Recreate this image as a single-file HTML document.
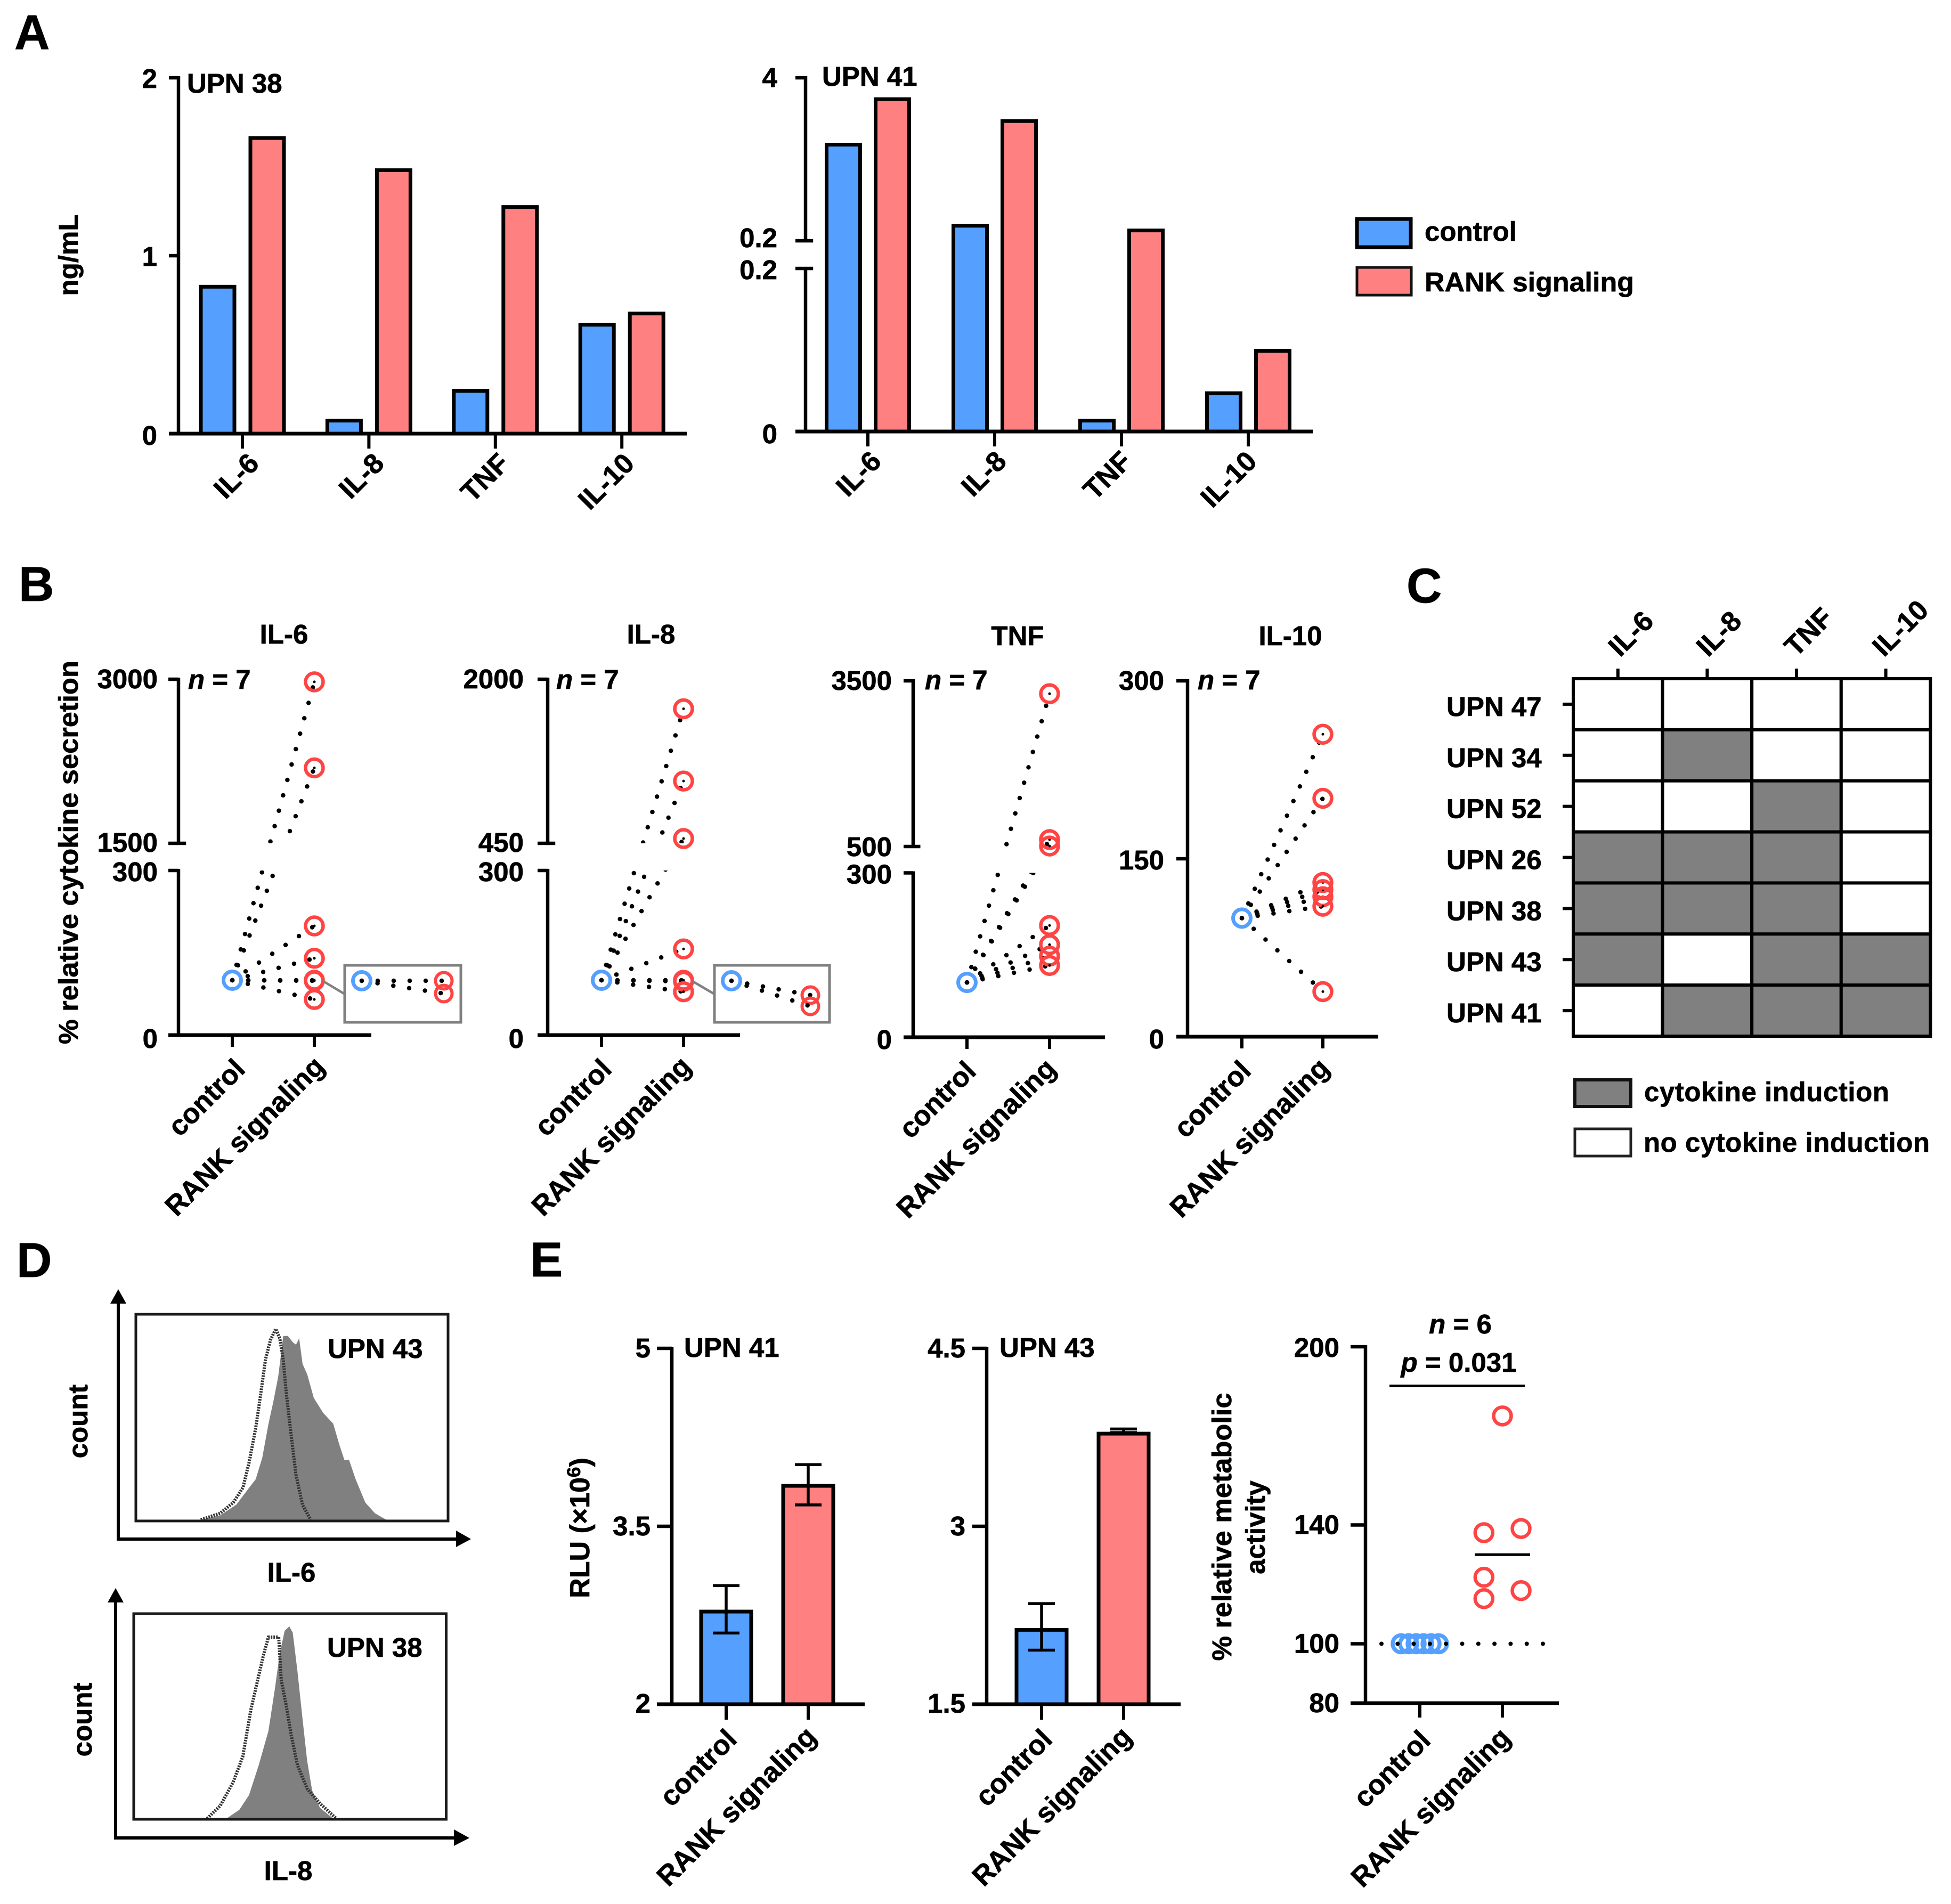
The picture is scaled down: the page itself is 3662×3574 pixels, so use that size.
<!DOCTYPE html>
<html lang="en">
<head>
<meta charset="utf-8">
<title>RANK signaling cytokine figure</title>
<style>
html,body{margin:0;padding:0;background:#fff;width:3662px;height:3574px;overflow:hidden}
svg{display:block}
text{font-family:"Liberation Sans",Arial,sans-serif;font-weight:bold;font-size:51px;fill:#000;stroke:#000;stroke-width:.7px}
.letter{font-size:92px}
.rot{font-size:52.5px}
</style>
</head>
<body>
<svg id="fig" width="3662" height="3574" viewBox="0 0 3662 3574">
<rect x="0" y="0" width="3662" height="3574" fill="#fff"/>
<text class="letter" x="27" y="92">A</text>
<text class="letter" x="35" y="1128">B</text>
<text class="letter" x="2640" y="1131">C</text>
<text class="letter" x="31" y="2397">D</text>
<text class="letter" x="995" y="2396">E</text>

<text transform="translate(146 479) rotate(-90)" text-anchor="middle">ng/mL</text>
<text x="351" y="174">UPN 38</text>
<text x="1543" y="161">UPN 41</text>

<g>
<rect x="2556" y="411" width="101" height="53" fill="#559fff" stroke="#000" stroke-width="7" transform="translate(-9 0)"/>
<text x="2674" y="452">control</text>
<rect x="2556" y="502" width="102" height="52" fill="#ff8080" stroke="#111" stroke-width="5" transform="translate(-9 0)"/>
<text x="2674" y="547" textLength="393" lengthAdjust="spacingAndGlyphs">RANK signaling</text>
</g>

<text transform="translate(146 1600) rotate(-90)" text-anchor="middle" textLength="720" lengthAdjust="spacingAndGlyphs">% relative cytokine secretion</text>
<text x="533" y="1208" text-anchor="middle">IL-6</text>
<text x="1222" y="1208" text-anchor="middle">IL-8</text>
<text x="1910" y="1211" text-anchor="middle">TNF</text>
<text x="2422" y="1211" text-anchor="middle">IL-10</text>
<text x="353" y="1293"><tspan font-style="italic">n</tspan> = 7</text>
<text x="1044" y="1293"><tspan font-style="italic">n</tspan> = 7</text>
<text x="1736" y="1294"><tspan font-style="italic">n</tspan> = 7</text>
<text x="2248" y="1294"><tspan font-style="italic">n</tspan> = 7</text>

<g>
<rect x="2956" y="2027" width="105" height="50" fill="#808080" stroke="#111" stroke-width="6"/>
<text x="3086" y="2067" textLength="460" lengthAdjust="spacing">cytokine induction</text>
<rect x="2956" y="2119" width="105" height="51" fill="#fff" stroke="#222" stroke-width="5"/>
<text x="3085" y="2162" textLength="537" lengthAdjust="spacing">no cytokine induction</text>
</g>

<g>
<path d="M222 2889V2440" stroke="#000" stroke-width="6" fill="none"/>
<polygon points="222,2420 207,2447 237,2447" fill="#000"/>
<path d="M219 2889H860" stroke="#000" stroke-width="6" fill="none"/>
<polygon points="884,2889 856,2873 856,2904" fill="#000"/>
</g>
<g>
<path d="M217 3450V3000" stroke="#000" stroke-width="6" fill="none"/>
<polygon points="217,2981 202,3008 232,3008" fill="#000"/>
<path d="M214 3450H856" stroke="#000" stroke-width="6" fill="none"/>
<polygon points="881,3450 852,3434 852,3465" fill="#000"/>
</g>
<text transform="translate(164 2668) rotate(-90)" text-anchor="middle">count</text>
<text transform="translate(172 3228) rotate(-90)" text-anchor="middle">count</text>
<text x="547" y="2969" text-anchor="middle">IL-6</text>
<text x="541" y="3529" text-anchor="middle">IL-8</text>

<text style="font-size:52px" transform="translate(1106 2868) rotate(-90)" text-anchor="middle">RLU (×10<tspan style="font-size:35px" dy="-17">6</tspan><tspan dy="17">)</tspan></text>
<text x="1284" y="2547">UPN 41</text>
<text x="1876" y="2547">UPN 43</text>
<text transform="translate(2311 2866) rotate(-90)" text-anchor="middle" textLength="503" lengthAdjust="spacingAndGlyphs">% relative metabolic</text>
<text transform="translate(2374 2867) rotate(-90)" text-anchor="middle">activity</text>
<text x="2741" y="2503" text-anchor="middle"><tspan font-style="italic">n</tspan> = 6</text>
<text x="2738" y="2575" text-anchor="middle"><tspan font-style="italic">p</tspan> = 0.031</text>
<path d="M2608 2601.5H2862" stroke="#000" stroke-width="5" fill="none"/>
</svg>

<script>
/* ---- Panel A data ---- */
const cytokines = ['IL-6', 'IL-8', 'TNF', 'IL-10'];
const upn38Control = [0.83, 0.078, 0.245, 0.617];
const upn38Rank = [1.666, 1.485, 1.278, 0.68];
const upn38Ticks = [0, 1, 2];
const upn38TickLabels = ['0', '1', '2'];
const upn41Control = [2.46, 0.57, 0.0144, 0.048];
const upn41Rank = [3.52, 3.01, 0.46, 0.1];
const upn41Ticks = [0, 0.2, 0.2001, 4];
const upn41TickLabels = ['0', '0.2', '0.2', '4'];

/* ---- Panel B data ---- */
const pairGroups = ['control', 'RANK signaling'];
const il6ControlValues = [100, 100, 100, 100, 100, 100, 100];
const il6RankValues = [2976, 2190, 199, 140, 100, 99, 65];
const il6Ticks = [0, 300, 1500, 3000];
const il6TickLabels = ['0', '300', '1500', '3000'];
const il6InsetControl = [100, 100];
const il6InsetRank = [100, 92];
const il8ControlValues = [100, 100, 100, 100, 100, 100, 100];
const il8RankValues = [1721, 1038, 495, 157, 100, 98, 79];
const il8Ticks = [0, 300, 450, 2000];
const il8TickLabels = ['0', '300', '450', '2000'];
const il8InsetControl = [100, 100];
const il8InsetRank = [91, 84];
const tnfControlValues = [100, 100, 100, 100, 100, 100, 100];
const tnfRankValues = [3267, 626, 510, 204, 169, 148, 131];
const tnfTicks = [0, 300, 500, 3500];
const tnfTickLabels = ['0', '300', '500', '3500'];
const il10ControlValues = [100, 100, 100, 100, 100, 100, 100];
const il10RankValues = [255, 201, 130, 124, 118, 110, 38];
const il10Ticks = [0, 150, 300];
const il10TickLabels = ['0', '150', '300'];

/* ---- Panel C data ---- */
const heatRows = ['UPN 47', 'UPN 34', 'UPN 52', 'UPN 26', 'UPN 38', 'UPN 43', 'UPN 41'];
const heatUpn47 = [0, 0, 0, 0];
const heatUpn34 = [0, 1, 0, 0];
const heatUpn52 = [0, 0, 1, 0];
const heatUpn26 = [1, 1, 1, 0];
const heatUpn38 = [1, 1, 1, 0];
const heatUpn43 = [1, 0, 1, 1];
const heatUpn41 = [0, 1, 1, 1];

/* ---- Panel D data (intensity 0-100, relative count 0-100) ---- */
const il6StainIntensity = [20.8, 27, 32.2, 36.3, 38.4, 40.5, 42.5, 44, 45.6, 47.2, 48.7, 50.3, 51.3, 52.3, 53.4, 54.9, 57, 60, 63.2, 65.2, 66.8, 68.3, 70.4, 73.5, 76.6, 80.2];
const il6StainCount = [0.6, 2.7, 7.9, 16.1, 20.2, 30.6, 47.1, 57.4, 69.8, 89.5, 89.5, 86.4, 85.3, 88.4, 76, 70.9, 59.5, 52.3, 47.1, 36.8, 29.5, 29.5, 20.2, 8.9, 3.7, 0.6];
const il6IsoIntensity = [20.8, 27, 31.2, 34.3, 36.3, 38.4, 40, 41.5, 43.1, 44.8, 46.1, 47.2, 48.2, 49.8, 51.3, 53.4, 56];
const il6IsoCount = [0.6, 3.7, 8.9, 16.1, 28.5, 45, 61.5, 78, 87.5, 92.9, 88.4, 78, 61.5, 40.8, 22.2, 7.7, 0.6];
const il8StainIntensity = [29.7, 33.8, 36.9, 40, 43.1, 45.2, 46.7, 48.3, 49.8, 50.9, 52.4, 54, 55.5, 57.1, 59.6, 63.8];
const il8StainCount = [0.4, 4.6, 11.8, 26.3, 42.9, 63.7, 80.3, 91.7, 93.8, 90.7, 72, 49.2, 28.5, 14, 5.6, 0.4];
const il8IsoIntensity = [23.5, 27.7, 31.8, 34.9, 37.5, 40, 41.6, 43.1, 46.4, 47.2, 48.8, 50.4, 52.4, 55.5, 59.6, 64.8];
const il8IsoCount = [0.4, 6.6, 18, 30.5, 53.3, 69.9, 80.3, 88.6, 88.6, 67.8, 55.4, 40.9, 26.3, 14.9, 7.7, 0.4];

/* ---- Panel E data ---- */
const rlu41Means = [2.79, 3.85];
const rlu41ErrUp = [0.21, 0.17];
const rlu41ErrDown = [0.19, 0.17];
const rlu41Ticks = [2, 3.5, 5];
const rlu41TickLabels = ['2', '3.5', '5'];
const rlu43Means = [2.136, 3.79];
const rlu43ErrUp = [0.212, 0.03];
const rlu43ErrDown = [0.18, 0];
const rlu43Ticks = [1.5, 3, 4.5];
const rlu43TickLabels = ['1.5', '3', '4.5'];
const metabolicControl = [100, 100, 100, 100, 100, 100];
const metabolicControlSwarm = [-0.226, -0.136, -0.045, 0.045, 0.136, 0.226];
const metabolicRank = [176.7, 137.4, 138.8, 122.4, 115.2, 117.9];
const metabolicRankSwarm = [0, -0.224, 0.226, -0.224, -0.224, 0.226];
const metabolicRankMean = 130;
const metabolicTicks = [80, 100, 140, 200];
const metabolicTickLabels = ['80', '100', '140', '200'];

/* ---- Drawing helpers ---- */
const BLUE = '#559fff', PINK = '#ff8080', RED = '#ff4444', GRAY = '#808080';
const svg = document.getElementById('fig');
const SVG_NS = svg.namespaceURI;

function mk(tag, attrs, parent) {
  const el = document.createElementNS(SVG_NS, tag);
  for (const k in attrs) el.setAttribute(k, attrs[k]);
  parent.appendChild(el);
  return el;
}
function group(parent) { return mk('g', {}, parent); }

function pieceScale(domain, range) {
  return function (v) {
    for (let i = 0; i < domain.length - 1; i++) {
      if (v <= domain[i + 1] || i === domain.length - 2) {
        return range[i] + (v - domain[i]) / (domain[i + 1] - domain[i]) * (range[i + 1] - range[i]);
      }
    }
  };
}

function drawYAxis(parent, o) {
  o.segments.forEach(function (s) {
    const spine = mk('line', { x1: o.x, x2: o.x, y1: o.scale(s[0]) + 3, y2: o.scale(s[1]) - 3, stroke: '#000', 'stroke-width': 6.5 }, parent);
    
    
  });
  o.ticks.forEach(function (t, i) {
    const y = o.scale(t);
    const across = o.breakTicks && o.breakTicks.indexOf(t) >= 0;
    const tick = mk('line', { x1: o.left, x2: across ? o.x + (o.x - o.left) * 0.75 : o.x, y1: y, y2: y, stroke: '#000', 'stroke-width': 6.5 }, parent);
    
    
    const label = mk('text', { x: o.labelRight, y: y + (o.labelDy ? o.labelDy[i] : 19), 'text-anchor': 'end' }, parent);
    label.textContent = o.labels[i];
    
    
  });
}

function drawXAxis(parent, o) {
  const axis = mk('line', { x1: o.left, x2: o.right, y1: o.y, y2: o.y, stroke: '#000', 'stroke-width': 7 }, parent);
  
  
  o.categories.forEach(function (c, i) {
    const x = o.catX(i);
    const tick = mk('line', { x1: x, x2: x, y1: o.y, y2: o.y + o.tickLen, stroke: '#000', 'stroke-width': 6 }, parent);
    
    
    const shift = o.pairShift ? (i === 0 ? [5, 7] : [0, 2]) : [0, 0];
    const lx = x + o.labelDx + i * (o.labelStep || 0) + shift[0], ly = o.y + o.labelDy + shift[1];
    const label = mk('text', { class: 'rot', x: lx, y: ly, 'text-anchor': 'end', transform: 'rotate(-45 ' + lx + ' ' + ly + ')' }, parent);
    label.textContent = c;
    
    
  });
}

/* ---- Panel A ---- */
function drawGroupedBars(o) {
  const g = group(svg);
  
  
  const y = pieceScale(o.domain, o.range);
  const catX = function (i) { return o.firstCat + i * o.step; };
  o.categories.forEach(function (c, i) {
    const tc = y(o.control[i]) + 1.5;
    const barC = mk('rect', { x: catX(i) - o.offset - o.barW / 2, y: tc, width: o.barW, height: o.y0 - tc, fill: BLUE, stroke: '#000', 'stroke-width': 7 }, g);
    
    
    const tr = y(o.rank[i]) + 1.5;
    const barR = mk('rect', { x: catX(i) + o.offset - o.barW / 2, y: tr, width: o.barW, height: o.y0 - tr, fill: PINK, stroke: '#000', 'stroke-width': 7 }, g);
    
    
  });
  drawYAxis(g, { x: o.axisX, scale: y, segments: o.segments, ticks: o.ticks, labels: o.labels, left: o.left, labelRight: o.labelRight, breakTicks: o.breakTicks, labelDy: o.labelDy });
  drawXAxis(g, { left: o.left, right: o.right, y: o.y0, categories: o.categories, catX: catX, tickLen: 28, labelDx: o.labelDx, labelStep: o.labelStep, labelDy: 59 });
}
drawGroupedBars({
  name: 'upn-38-bar-chart', categories: cytokines, control: upn38Control, rank: upn38Rank,
  domain: [0, 2], range: [814, 146], y0: 814, firstCat: 455, step: 237.4, offset: 46.5, barW: 63,
  axisX: 335, left: 317, right: 1289, labelRight: 295, ticks: upn38Ticks, labels: upn38TickLabels,
  segments: [[0, 2]], labelDy: [21, 19, 19], labelDx: 34, labelStep: -2.5
});
drawGroupedBars({
  name: 'upn-41-bar-chart', categories: cytokines, control: upn41Control, rank: upn41Rank,
  domain: [0, 0.2, 0.2001, 4], range: [810, 504, 452, 146], y0: 810, firstCat: 1629, step: 238, offset: 46, barW: 63,
  axisX: 1512, left: 1493, right: 2464, labelRight: 1459, ticks: upn41Ticks, labels: upn41TickLabels,
  segments: [[0, 0.2], [0.2001, 4]], breakTicks: [0.2, 0.2001], labelDy: [22, 20, 12, 17], labelDx: 28, labelStep: -3
});

/* ---- Panel B ---- */
let clipCounter = 0;
function drawPaired(o) {
  const g = group(svg);
  
  
  const y = pieceScale(o.domain, o.range);
  let clipRef = null;
  if (o.gap) {
    clipCounter += 1;
    const clip = mk('clipPath', { id: 'gapclip' + clipCounter }, g);
    mk('rect', { x: o.axisX, y: 1200, width: 500, height: o.gap[0] - 1200 }, clip);
    mk('rect', { x: o.axisX, y: o.gap[1], width: 500, height: 500 }, clip);
    clipRef = 'url(#gapclip' + clipCounter + ')';
  }
  o.rank.forEach(function (v, i) {
    const attrs = { x1: o.cats[0], y1: y(o.control[i]), x2: o.cats[1], y2: y(v), stroke: '#000', 'stroke-width': 8.5, 'stroke-linecap': 'round', 'stroke-dasharray': '0 30' };
    if (clipRef) attrs['clip-path'] = clipRef;
    const link = mk('line', attrs, g);
    
    
  });
  o.rank.forEach(function (v) {
    const pt = mk('circle', { cx: o.cats[1], cy: y(v), r: 16.5, fill: 'none', stroke: RED, 'stroke-width': 6.5 }, g);
    
    
    const c = mk('circle', { cx: o.cats[1], cy: y(v), r: 2.5, fill: '#000' }, g);
    
    
  });
  const ctrl = mk('circle', { cx: o.cats[0], cy: y(o.control[0]), r: 16.5, fill: 'none', stroke: BLUE, 'stroke-width': 7 }, g);
  
  
  drawYAxis(g, { x: o.axisX, scale: y, segments: o.segments, ticks: o.ticks, labels: o.labels, left: o.left, labelRight: o.labelRight, breakTicks: o.breakTicks, labelDy: o.labelDy });
  drawXAxis(g, { left: o.left, right: o.right, y: o.y0, categories: pairGroups, catX: function (i) { return o.cats[i]; }, tickLen: 22, labelDx: o.labelDx, labelDy: 60, pairShift: true });
  if (o.inset) {
    const ins = o.inset;
    const iy = function (v) { return ins.y100 + (100 - v) * 3; };
    const conn = mk('line', { x1: ins.fromX, y1: ins.fromY, x2: ins.box[0], y2: ins.fromY + 24, stroke: GRAY, 'stroke-width': 4.5 }, g);
    
    
    const box = mk('rect', { x: ins.box[0], y: ins.box[1], width: ins.box[2], height: ins.box[3], fill: '#fff', stroke: GRAY, 'stroke-width': 5 }, g);
    
    
    ins.rank.forEach(function (v, i) {
      const l = mk('line', { x1: ins.blueX, y1: iy(ins.control[i]), x2: ins.redX, y2: iy(v), stroke: '#000', 'stroke-width': 8.5, 'stroke-linecap': 'round', 'stroke-dasharray': '0 30' }, g);
      
      
      const p = mk('circle', { cx: ins.redX, cy: iy(v), r: 15.5, fill: 'none', stroke: RED, 'stroke-width': 6 }, g);
      
      
    });
    const b = mk('circle', { cx: ins.blueX, cy: iy(ins.control[0]), r: 16.5, fill: 'none', stroke: BLUE, 'stroke-width': 7 }, g);
    
    
  }
}
drawPaired({
  name: 'il-6-paired-chart', control: il6ControlValues, rank: il6RankValues,
  domain: [0, 300, 1500, 3000], range: [1943, 1634, 1583, 1275], y0: 1943,
  axisX: 335, left: 316, right: 697, labelRight: 296, cats: [436, 590], gap: [1583, 1634],
  ticks: il6Ticks, labels: il6TickLabels, segments: [[0, 300], [1500, 3000]], breakTicks: [1500],
  labelDy: [24, 20, 16, 17], labelDx: 22,
  inset: { box: [647, 1812, 218, 107], blueX: 679, redX: 833, y100: 1841, fromX: 607, fromY: 1842, control: il6InsetControl, rank: il6InsetRank }
});
drawPaired({
  name: 'il-8-paired-chart', control: il8ControlValues, rank: il8RankValues,
  domain: [0, 300, 450, 2000], range: [1943, 1634, 1583, 1275], y0: 1943,
  axisX: 1028, left: 1009, right: 1389, labelRight: 983, cats: [1129, 1283], gap: [1583, 1634],
  ticks: il8Ticks, labels: il8TickLabels, segments: [[0, 300], [450, 2000]], breakTicks: [450],
  labelDy: [24, 20, 16, 17], labelDx: 17,
  inset: { box: [1341, 1812, 216, 107], blueX: 1373, redX: 1521, y100: 1841, fromX: 1300, fromY: 1842, control: il8InsetControl, rank: il8InsetRank }
});
drawPaired({
  name: 'tnf-paired-chart', control: tnfControlValues, rank: tnfRankValues,
  domain: [0, 300, 500, 3500], range: [1947, 1638.5, 1589, 1278], y0: 1947,
  axisX: 1714, left: 1696, right: 2074, labelRight: 1674, cats: [1815, 1970], gap: [1589, 1638.5],
  ticks: tnfTicks, labels: tnfTickLabels, segments: [[0, 300], [500, 3500]], breakTicks: [500],
  labelDy: [22, 20, 18, 17], labelDx: 15
});
drawPaired({
  name: 'il-10-paired-chart', control: il10ControlValues, rank: il10RankValues,
  domain: [0, 300], range: [1946, 1278], y0: 1946,
  axisX: 2229, left: 2208, right: 2587, labelRight: 2185, cats: [2331, 2483],
  ticks: il10Ticks, labels: il10TickLabels, segments: [[0, 300]],
  labelDy: [22, 20, 17], labelDx: 15
});

/* ---- Panel C ---- */
(function () {
  const g = group(svg);
  
  
  const x0 = 2953, y0 = 1274, cw = 167.6, ch = 95.86;
  const matrix = [heatUpn47, heatUpn34, heatUpn52, heatUpn26, heatUpn38, heatUpn43, heatUpn41];
  matrix.forEach(function (row, r) {
    row.forEach(function (v, c) {
      const cell = mk('rect', { x: x0 + c * cw, y: y0 + r * ch, width: cw, height: ch, fill: v ? GRAY : '#fff', stroke: '#000', 'stroke-width': 6 }, g);
      
      
    });
  });
  heatRows.forEach(function (name, r) {
    const yc = y0 + (r + 0.5) * ch;
    const tick = mk('line', { x1: x0 - 20, x2: x0, y1: yc, y2: yc, stroke: '#000', 'stroke-width': 6 }, g);
    
    
    const label = mk('text', { x: 2715, y: yc + 22 }, g);
    label.textContent = name;
    
    
  });
  cytokines.forEach(function (name, c) {
    const xc = x0 + (c + 0.5) * cw;
    const tick = mk('line', { x1: xc, x2: xc, y1: y0 - 19, y2: y0, stroke: '#000', 'stroke-width': 6 }, g);
    
    
    const lx = xc + 4 - c * 2.5, ly = 1235;
    const label = mk('text', { class: 'rot', x: lx, y: ly, transform: 'rotate(-45 ' + lx + ' ' + ly + ')' }, g);
    label.textContent = name;
    
    
  });
})();

/* ---- Panel D ---- */
function drawHistogram(o) {
  const g = group(svg);
  
  
  const sx = function (v) { return o.box[0] + v / 100 * o.box[2]; };
  const sy = function (v) { return o.box[1] + o.box[3] - v / 100 * o.box[3]; };
  const pts = function (xs, ys) { return xs.map(function (v, i) { return sx(v).toFixed(1) + ',' + sy(ys[i]).toFixed(1); }).join(' '); };
  const base = sy(0);
  const area = mk('polygon', { points: sx(o.stainX[0]) + ',' + base + ' ' + pts(o.stainX, o.stainY) + ' ' + sx(o.stainX[o.stainX.length - 1]) + ',' + base, fill: GRAY }, g);
  
  
  const iso = mk('polyline', { points: pts(o.isoX, o.isoY), fill: 'none', stroke: '#333', 'stroke-width': 6, 'stroke-dasharray': '3 2' }, g);
  
  
  const frame = mk('rect', { x: o.box[0], y: o.box[1], width: o.box[2], height: o.box[3], fill: 'none', stroke: '#1a1a1a', 'stroke-width': 5 }, g);
  
  
  const label = mk('text', { x: o.labelX, y: o.labelY }, g);
  label.textContent = o.label;
  
  
}
drawHistogram({ name: 'il-6-histogram', box: [255, 2467, 586, 388], stainX: il6StainIntensity, stainY: il6StainCount, isoX: il6IsoIntensity, isoY: il6IsoCount, label: 'UPN 43', labelX: 615, labelY: 2549 });
drawHistogram({ name: 'il-8-histogram', box: [251, 3029, 586.5, 386], stainX: il8StainIntensity, stainY: il8StainCount, isoX: il8IsoIntensity, isoY: il8IsoCount, label: 'UPN 38', labelX: 614, labelY: 3110 });

/* ---- Panel E ---- */
function drawRluBars(o) {
  const g = group(svg);
  
  
  const y = pieceScale(o.domain, o.range);
  o.means.forEach(function (m, i) {
    const cx = o.cats[i], t = y(m) + 2;
    const bar = mk('rect', { x: cx - 47, y: t, width: 94, height: o.y0 - t, fill: i ? PINK : BLUE, stroke: '#000', 'stroke-width': 7 }, g);
    
    
    const up = y(m + o.errUp[i]), dn = y(m - o.errDown[i]);
    const stem = mk('line', { x1: cx, x2: cx, y1: up, y2: dn, stroke: '#000', 'stroke-width': 5.5 }, g);
    
    
    const capU = mk('line', { x1: cx - 25, x2: cx + 25, y1: up, y2: up, stroke: '#000', 'stroke-width': 5.5 }, g);
    
    
    const capD = mk('line', { x1: cx - 25, x2: cx + 25, y1: dn, y2: dn, stroke: '#000', 'stroke-width': 5.5 }, g);
    
    
  });
  drawYAxis(g, { x: o.axisX, scale: y, segments: [[o.domain[0], o.domain[1]]], ticks: o.ticks, labels: o.labels, left: o.left, labelRight: o.labelRight, labelDy: [16, 17, 17] });
  drawXAxis(g, { left: o.left, right: o.right, y: o.y0, categories: pairGroups, catX: function (i) { return o.cats[i]; }, tickLen: 29, labelDx: 18, labelDy: 62, pairShift: true });
}
drawRluBars({ name: 'upn-41-rlu-chart', means: rlu41Means, errUp: rlu41ErrUp, errDown: rlu41ErrDown, domain: [2, 5], range: [3199, 2531], y0: 3199, axisX: 1261, left: 1233, right: 1623, labelRight: 1221, cats: [1363, 1517], ticks: rlu41Ticks, labels: rlu41TickLabels });
drawRluBars({ name: 'upn-43-rlu-chart', means: rlu43Means, errUp: rlu43ErrUp, errDown: rlu43ErrDown, domain: [1.5, 4.5], range: [3199, 2531], y0: 3199, axisX: 1852, left: 1825, right: 2216, labelRight: 1812, cats: [1955, 2109], ticks: rlu43Ticks, labels: rlu43TickLabels });

(function () {
  const g = group(svg);
  
  
  const y = pieceScale([80, 200], [3197, 2528]);
  const cats = [2665, 2820];
  const catW = cats[1] - cats[0];
  metabolicControl.forEach(function (v, i) {
    const p = mk('circle', { cx: cats[0] + metabolicControlSwarm[i] * catW, cy: y(v), r: 16, fill: 'none', stroke: BLUE, 'stroke-width': 7.5 }, g);
    
    
  });
  metabolicRank.forEach(function (v, i) {
    const p = mk('circle', { cx: cats[1] + metabolicRankSwarm[i] * catW, cy: y(v), r: 16.5, fill: 'none', stroke: RED, 'stroke-width': 6.5 }, g);
    
    
  });
  const ref = mk('line', { x1: 2593, x2: 2899, y1: y(100), y2: y(100), stroke: '#000', 'stroke-width': 8, 'stroke-linecap': 'round', 'stroke-dasharray': '0 30.3' }, g);
  
  
  const mean = mk('line', { x1: cats[1] - 52, x2: cats[1] + 52, y1: y(metabolicRankMean), y2: y(metabolicRankMean), stroke: '#000', 'stroke-width': 5 }, g);
  
  
  drawYAxis(g, { x: 2563, scale: y, segments: [[80, 200]], ticks: metabolicTicks, labels: metabolicTickLabels, left: 2535, labelRight: 2514, labelDy: [17, 17, 17, 19] });
  drawXAxis(g, { left: 2535, right: 2926, y: 3197, categories: pairGroups, catX: function (i) { return cats[i]; }, tickLen: 27, labelDx: 18, labelDy: 66, pairShift: true });
})();
</script>
</body>
</html>
